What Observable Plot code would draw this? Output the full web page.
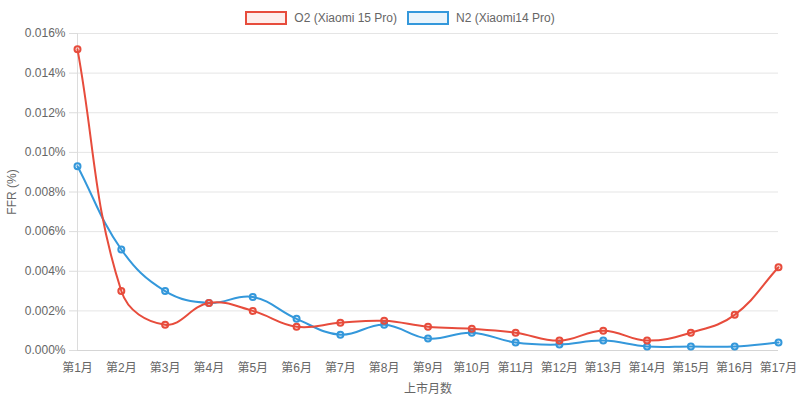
<!DOCTYPE html>
<html>
<head>
<meta charset="utf-8">
<script src="https://cdn.jsdelivr.net/npm/d3@7"></script>
<script src="https://cdn.jsdelivr.net/npm/@observablehq/plot@0.6"></script>
<style>
  html, body { margin: 0; padding: 0; background: #fff; }
  #wrap { position: relative; width: 800px; height: 401px; font-family: "Liberation Sans", Arial, "Noto Sans CJK SC", sans-serif; }
  #legend { position: absolute; top: 11px; left: 0; width: 800px; display: flex; justify-content: center; font-size: 12px; color: #666; line-height: 13px; }
  .item { display: flex; align-items: center; margin: 0 5px; }
  .box { width: 38px; height: 10px; border: 2px solid; margin-right: 7px; }
</style>
</head>
<body>
<div id="wrap"><div id="legend"></div></div>
<script>
const months = ["第1月","第2月","第3月","第4月","第5月","第6月","第7月","第8月","第9月","第10月","第11月","第12月","第13月","第14月","第15月","第16月","第17月"];
const seriesNames = ["O2 (Xiaomi 15 Pro)", "N2 (Xiaomi14 Pro)"];
const seriesColors = ["#e74c3c", "#3498db"];
const seriesFills = ["rgba(231,76,60,0.1)", "rgba(52,152,219,0.1)"];
const o2Values = [0.0152, 0.0030, 0.0013, 0.0024, 0.0020, 0.0012, 0.0014, 0.0015, 0.0012, 0.0011, 0.0009, 0.0005, 0.0010, 0.0005, 0.0009, 0.0018, 0.0042];
const n2Values = [0.0093, 0.0051, 0.0030, 0.0024, 0.0027, 0.0016, 0.0008, 0.0013, 0.0006, 0.0009, 0.0004, 0.0003, 0.0005, 0.0002, 0.0002, 0.0002, 0.0004];
const yTicks = [0, 0.002, 0.004, 0.006, 0.008, 0.010, 0.012, 0.014, 0.016];

const W = 800, H = 401, ML = 77, MR = 22, MT = 33, MB = 51;

// Chart.js-like spline (tension 0.4) with control points capped to the chart area
function chartSpline(context) {
  const t = 0.4;
  return {
    areaStart() {}, areaEnd() {},
    lineStart() { this.p = []; },
    point(x, y) { this.p.push([+x, +y]); },
    lineEnd() {
      const p = this.p, n = p.length;
      if (!n) return;
      const cps = p.map((cur, i) => {
        const prev = p[i - 1] || cur, next = p[i + 1] || cur;
        const d01 = Math.hypot(cur[0] - prev[0], cur[1] - prev[1]);
        const d12 = Math.hypot(next[0] - cur[0], next[1] - cur[1]);
        let s01 = d01 / (d01 + d12), s12 = d12 / (d01 + d12);
        if (!isFinite(s01)) s01 = 0; if (!isFinite(s12)) s12 = 0;
        const fa = t * s01, fb = t * s12;
        const cl = (v, a, b) => Math.max(a, Math.min(b, v));
        return {
          prev: [cl(cur[0] - fa * (next[0] - prev[0]), ML, W - MR), cl(cur[1] - fa * (next[1] - prev[1]), MT, H - MB)],
          next: [cl(cur[0] + fb * (next[0] - prev[0]), ML, W - MR), cl(cur[1] + fb * (next[1] - prev[1]), MT, H - MB)]
        };
      });
      context.moveTo(p[0][0], p[0][1]);
      for (let i = 1; i < n; i++) {
        const a = cps[i - 1].next, b = cps[i].prev;
        context.bezierCurveTo(a[0], a[1], b[0], b[1], p[i][0], p[i][1]);
      }
    }
  };
}

const o2 = months.map((m, i) => ({month: m, value: o2Values[i]}));
const n2 = months.map((m, i) => ({month: m, value: n2Values[i]}));

const chart = Plot.plot({
  width: W, height: H,
  marginLeft: ML, marginRight: MR, marginTop: MT, marginBottom: MB,
  style: {fontFamily: "'Liberation Sans', Arial, 'Noto Sans CJK SC', sans-serif", fontSize: "12px", color: "#666", background: "transparent"},
  x: {type: "point", domain: months, padding: 0, round: false},
  y: {domain: [0, 0.016]},
  marks: [
    Plot.gridY(yTicks, {stroke: "#e5e5e5", strokeOpacity: 1}),
    Plot.ruleX([months[0]], {stroke: "#dcdcdc"}),
    Plot.ruleY([0], {stroke: "#d5d5d5"}),
    Plot.axisY(yTicks, {tickFormat: d => d.toFixed(3) + "%", tickSize: 8, tickPadding: 4, stroke: "#dcdcdc",
      label: "FFR (%)", labelAnchor: "center", labelArrow: "none", labelOffset: 70}),
    Plot.axisX({tickSize: 0, tickPadding: 13, label: "上市月数", labelAnchor: "center", labelArrow: "none", labelOffset: 42}),
    Plot.line(n2, {x: "month", y: "value", stroke: seriesColors[1], strokeWidth: 2, curve: chartSpline}),
    Plot.dot(n2, {x: "month", y: "value", r: 3, stroke: seriesColors[1], strokeWidth: 2, fill: seriesFills[1]}),
    Plot.line(o2, {x: "month", y: "value", stroke: seriesColors[0], strokeWidth: 2, curve: chartSpline}),
    Plot.dot(o2, {x: "month", y: "value", r: 3, stroke: seriesColors[0], strokeWidth: 2, fill: seriesFills[0]})
  ]
});
document.getElementById("wrap").prepend(chart);

const legend = document.getElementById("legend");
seriesNames.forEach((name, i) => {
  const item = document.createElement("div");
  item.className = "item";
  const box = document.createElement("div");
  box.className = "box";
  box.style.borderColor = seriesColors[i];
  box.style.background = seriesFills[i];
  const label = document.createElement("span");
  label.textContent = name;
  item.appendChild(box); item.appendChild(label);
  legend.appendChild(item);
});
</script>
</body>
</html>
